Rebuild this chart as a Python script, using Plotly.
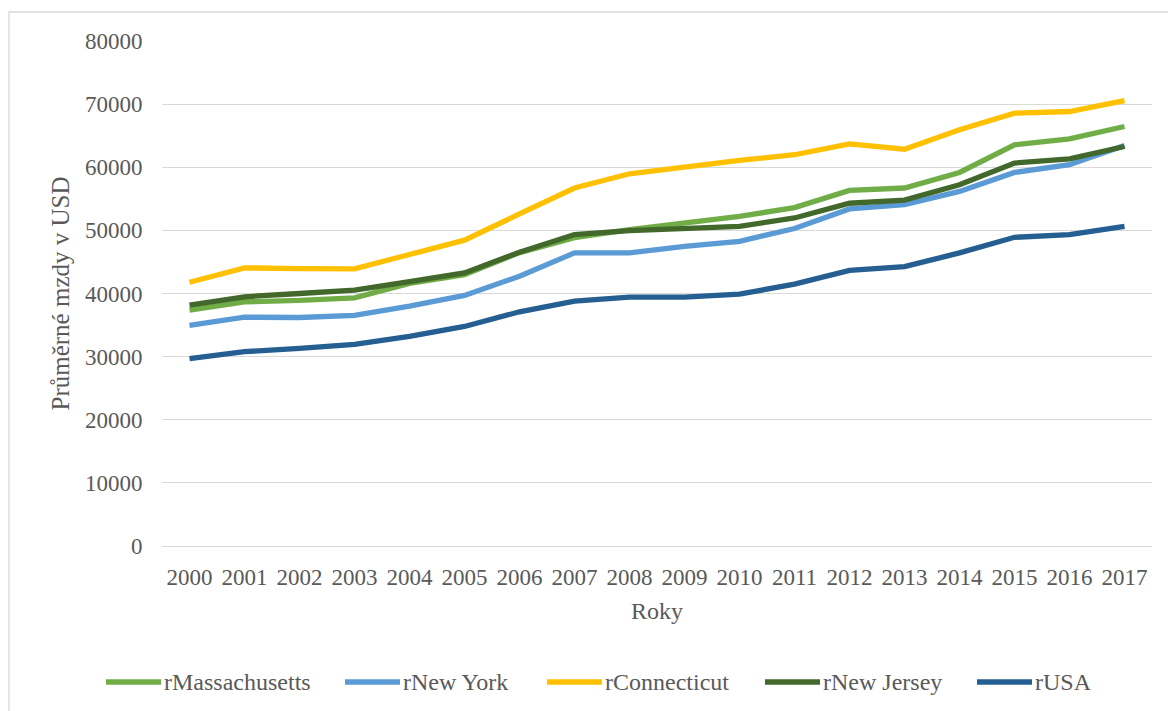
import plotly.graph_objects as go

# Years on the category axis
years = [str(y) for y in range(2000, 2018)]

# Average wages (USD) per region
massachusetts = [37360, 38690, 38900, 39320, 41600, 43000, 46480, 48850, 50100, 51180,
                 52220, 53600, 56330, 56710, 59180, 63560, 64500, 66450]
new_york = [34940, 36250, 36200, 36520, 37990, 39700, 42740, 46430, 46430, 47480,
            48270, 50300, 53390, 54070, 56170, 59180, 60400, 63450]
connecticut = [41790, 44060, 43950, 43900, 46170, 48450, 52600, 56710, 58970, 60130,
               61080, 61980, 63700, 62850, 65930, 68570, 68830, 70560]
new_jersey = [38150, 39480, 40000, 40520, 41900, 43270, 46550, 49330, 49960, 50280,
              50640, 51970, 54300, 54800, 57230, 60660, 61340, 63290]
usa = [29670, 30780, 31300, 31940, 33200, 34780, 37100, 38790, 39420, 39420,
       39900, 41480, 43660, 44270, 46430, 48900, 49330, 50640]

series_names = ["rMassachusetts", "rNew York", "rConnecticut", "rNew Jersey", "rUSA"]
series_values = [massachusetts, new_york, connecticut, new_jersey, usa]
series_colors = ["#70AD47", "#5B9BD5", "#FFC000", "#43682B", "#255E91"]

FONT = "Liberation Serif, serif"
TEXT = "#595959"
GRID = "#d9d9d9"

# Plot area in pixels (used to place the legend row below the axis)
W, H = 1168, 711
L, R, T, B = 162, 16, 41, 165
PW, PH = W - L - R, H - T - B


def px_x(px):
    return (px - L) / PW


def px_y(py):
    return (H - B - py) / PH


fig = go.Figure()
for name, vals, color in zip(series_names, series_values, series_colors):
    fig.add_trace(go.Scatter(
        x=years, y=vals, name=name, mode="lines",
        line=dict(color=color, width=5.3),
    ))

# Legend row: a short swatch line followed by the series name
legend_starts = [106, 345, 547, 765, 977]
legend_y = 682
swatch_len = 55
shapes = [dict(
    type="rect", xref="paper", yref="paper",
    x0=px_x(9), x1=px_x(1180), y0=px_y(720), y1=px_y(12),
    line=dict(color=GRID, width=1.3), fillcolor="rgba(0,0,0,0)", layer="below",
)]
annotations = []
for name, color, x0 in zip(series_names, series_colors, legend_starts):
    shapes.append(dict(
        type="line", xref="paper", yref="paper",
        x0=px_x(x0), x1=px_x(x0 + swatch_len), y0=px_y(legend_y), y1=px_y(legend_y),
        line=dict(color=color, width=5.3),
    ))
    annotations.append(dict(
        xref="paper", yref="paper", x=px_x(x0 + swatch_len + 1), y=px_y(legend_y),
        xanchor="left", yanchor="middle", showarrow=False, text=name,
        font=dict(family=FONT, size=24, color=TEXT),
    ))

fig.update_layout(
    width=W, height=H,
    margin=dict(l=L, r=R, t=T, b=B),
    paper_bgcolor="white", plot_bgcolor="white",
    font=dict(family=FONT, size=23, color=TEXT),
    showlegend=False,
    xaxis=dict(
        type="category", range=[-0.5, 17.5],
        showgrid=False, zeroline=False, showline=False,
        ticks="outside", ticklen=10, tickcolor="rgba(0,0,0,0)",
        tickfont=dict(family=FONT, size=23, color=TEXT),
        title=dict(text="Roky", font=dict(family=FONT, size=24, color=TEXT), standoff=13),
    ),
    yaxis=dict(
        range=[0, 80000], dtick=10000, tickformat="d",
        showgrid=True, gridcolor=GRID, gridwidth=1.3,
        zeroline=True, zerolinecolor=GRID, zerolinewidth=1.3, showline=False,
        ticks="outside", ticklen=14, tickcolor="rgba(0,0,0,0)",
        tickfont=dict(family=FONT, size=23, color=TEXT),
        title=dict(text="Průměrné mzdy v USD", font=dict(family=FONT, size=25, color=TEXT), standoff=8),
    ),
    shapes=shapes,
    annotations=annotations,
)

fig.write_html("out.html")
